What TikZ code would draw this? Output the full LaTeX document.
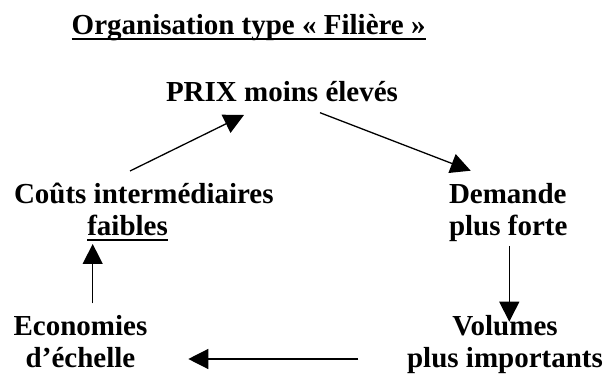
\documentclass[tikz,border=0pt]{standalone}
\usepackage{fontspec}
\setmainfont{Liberation Serif}
\usetikzlibrary{arrows.meta}
\newcommand\myul[1]{\setbox0\hbox{#1}\rlap{\rule[-5.3pt]{\wd0}{2pt}}\box0}
\tikzset{
  lbl/.style={inner sep=0pt, outer sep=0pt, font=\fontsize{29}{32}\selectfont\bfseries},
  conn/.style={line width=1.3pt, -{Triangle[length=20pt,width=20pt]}}
}
\begin{document}
\begin{tikzpicture}[x=1pt,y=-1pt]
\useasboundingbox (0,0) rectangle (606,374);
\node[lbl, anchor=base west] (title) at (71.7,35) {\myul{Organisation type « Filière »}};
\node[lbl, anchor=base west] (prix) at (166,101.7) {PRIX moins élevés};
\node[lbl, anchor=base west, align=left] (cout) at (14,236) {Coûts intermédiaires\\\hspace*{73.3pt}\myul{faibles}};
\node[lbl, anchor=base west, align=left] (dem) at (449,236) {Demande\\plus forte};
\node[lbl, anchor=base, align=center] (vol) at (505,367.5) {Volumes\\plus importants};
\node[lbl, anchor=base, align=center] (eco) at (80.5,367.5) {Economies\\d’échelle};
\coordinate (c1s) at (130,171);   \coordinate (c1e) at (244,115);
\coordinate (c2s) at (320,112.7); \coordinate (c2e) at (470.7,170.7);
\coordinate (c3s) at (509.3,246); \coordinate (c3e) at (509.3,321.7);
\coordinate (c4s) at (358.3,359); \coordinate (c4e) at (188.3,359);
\coordinate (c5s) at (92.7,303.3); \coordinate (c5e) at (92.7,244);
\draw[conn] (c1s) -- (c1e);
\draw[conn] (c2s) -- (c2e);
\draw[conn] (c3s) -- (c3e);
\draw[conn] (c4s) -- (c4e);
\draw[conn] (c5s) -- (c5e);
\end{tikzpicture}
\end{document}
